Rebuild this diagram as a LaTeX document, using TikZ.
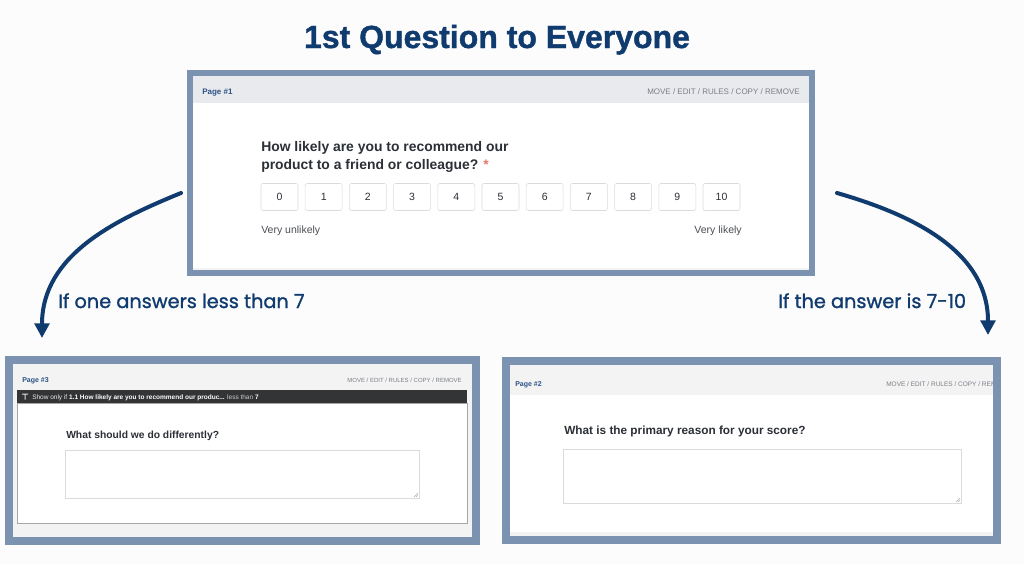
\documentclass[tikz,border=0pt]{standalone}
\usepackage{fontspec}
\setmainfont{Liberation Sans}
\newfontfamily\labfont[FakeBold=1.2]{Poppins}
\newfontfamily\titlefont[FakeBold=1.2]{Liberation Sans Bold}
\usetikzlibrary{arrows.meta}
\definecolor{navy}{HTML}{0F3B6E}
\definecolor{framecol}{HTML}{7B93B1}
\definecolor{band}{HTML}{E9EAED}
\definecolor{bgcol}{HTML}{FCFCFD}
\definecolor{qtext}{HTML}{2B2F36}
\definecolor{pagecol}{HTML}{2A5286}
\definecolor{menucol}{HTML}{7A7E85}
\definecolor{boxline}{HTML}{D9DBDF}
\definecolor{darkbar}{HTML}{333435}
\definecolor{innergray}{HTML}{F3F3F4}
\definecolor{astcol}{HTML}{E8776B}
\newcommand\pxs[1]{\fontsize{\fpeval{#1*0.75}pt}{\fpeval{#1*0.95}pt}\selectfont}
\tikzset{
  frameline/.style={draw=framecol},
  pagelbl/.style={anchor=base west, inner sep=0pt, text=pagecol, font=\bfseries\pxs{8}},
  menulbl/.style={anchor=base east, inner sep=0pt, text=menucol, font=\pxs{8}},
  qlbl/.style={anchor=base west, inner sep=0pt, text=qtext, font=\bfseries\pxs{13.9}},
  numbox/.style={draw=boxline, fill=white, rounded corners=1.5pt, minimum width=27.75pt, minimum height=20.25pt, inner sep=0pt, text=qtext, font=\pxs{10.5}},
  smalllbl/.style={inner sep=0pt, text=qtext!85, font=\pxs{10.5}},
  branchlbl/.style={anchor=base west, inner sep=0pt, text=navy, font=\labfont\pxs{19.3}},
  flowarrow/.style={draw=navy, line width=3pt, line cap=round, -{Triangle[length=11pt,width=11pt]}},
  tarea/.style={draw=boxline, fill=white}
}
\begin{document}
\begin{tikzpicture}[x=0.75pt,y=-0.75pt]
\useasboundingbox (0,0) rectangle (1024,564);
\fill[bgcol] (0,0) rectangle (1024,564);

% title
\node[anchor=base, inner sep=0pt, text=navy, font=\titlefont\pxs{32}] (title) at (497,48) {1st Question to Everyone};

% ---------------- top frame ----------------
\fill[white] (193,76) rectangle (809,270);
\fill[band] (193,76) rectangle (809,103);
\fill[innergray] (193,268) rectangle (809,270);
\draw[frameline, line width=4.5pt] (190,73) rectangle (812,273);
\node[pagelbl] (p1) at (202,94) {Page \#1};
\node[menulbl] (m1) at (800,94) {MOVE / EDIT / RULES / COPY / REMOVE};
\node[qlbl] (q1a) at (261,151) {How likely are you to recommend our};
\node[qlbl] (q1b) at (261,169) {product to a friend or colleague? \textcolor{astcol}{*}};
\foreach \i in {0,...,10}
  \node[numbox] (b\i) at ({279.5+44.2*\i},197) {\i};
\node[smalllbl, anchor=base west] (vu) at (261,233) {Very unlikely};
\node[smalllbl, anchor=base east] (vl) at (742,233) {Very likely};

% ---------------- arrows and labels ----------------
\coordinate (la) at (181,193);
\coordinate (lb) at (42,338);
\coordinate (ra) at (837,193);
\coordinate (rb) at (988,335);
\draw[flowarrow] (la) .. controls (115,220) and (42,255) .. (lb);
\draw[flowarrow] (ra) .. controls (910,214) and (988,250) .. (rb);
\node[branchlbl] (l1) at (58,308) {If one answers less than 7};
\node[branchlbl] (l2) at (778,308) {If the answer is 7-10};

% ---------------- bottom-left frame (Page #3) ----------------
\fill[innergray] (13,364) rectangle (472,537);
\draw[frameline, line width=6pt] (9,360) rectangle (476,541);
\node[pagelbl, font=\bfseries\pxs{7}] (p3) at (22,382.5) {Page \#3};
\node[menulbl, font=\pxs{6}] (m3) at (462,382) {MOVE / EDIT / RULES / COPY / REMOVE};
\fill[darkbar] (17,390) rectangle (467,403);
\fill[white!75!gray] (22,393.5) -- (28,393.5) -- (28,394.5) -- (25.5,394.5) -- (25.5,399.5) -- (24.5,399.5) -- (24.5,394.5) -- (22,394.5) -- cycle;
\node[anchor=base west, inner sep=0pt, font=\pxs{6.5}, text=white!85!gray] (cond) at (32,399)
  {Show only if \textcolor{white}{\bfseries 1.1 How likely are you to recommend our produc...} \textcolor{white!60!gray}{less than} \textcolor{white}{\bfseries 7}};
\draw[fill=white, draw=gray!70, line width=0.6pt] (17,403) rectangle (467,523);
\node[qlbl, font=\bfseries\pxs{10.3}] (q3) at (66,438.5) {What should we do differently?};
\draw[tarea] (65,450) rectangle (419,498);
\draw[gray!60, line width=0.3pt] (414,497) -- (418,493) (416,497) -- (418,495);

% ---------------- bottom-right frame (Page #2) ----------------
\fill[white] (510,365) rectangle (993,536);
\fill[innergray] (510,365) rectangle (993,395);
\fill[innergray] (510,532) rectangle (993,536);
\begin{scope}
  \clip (510,365) rectangle (995,395);
  \node[pagelbl, font=\bfseries\pxs{7}] (p2) at (515,386.5) {Page \#2};
  \node[menulbl, anchor=base west, font=\pxs{6.5}] (m2) at (886,386.5) {MOVE / EDIT / RULES / COPY / REMOVE};
\end{scope}
\draw[frameline, line width=6pt] (506,361) rectangle (997,540);
\node[qlbl, font=\bfseries\pxs{11.8}] (q2) at (564,434.5) {What is the primary reason for your score?};
\draw[tarea] (563,449) rectangle (961,503);
\draw[gray!60, line width=0.3pt] (956,502) -- (960,498) (958,502) -- (960,500);
\end{tikzpicture}
\end{document}
